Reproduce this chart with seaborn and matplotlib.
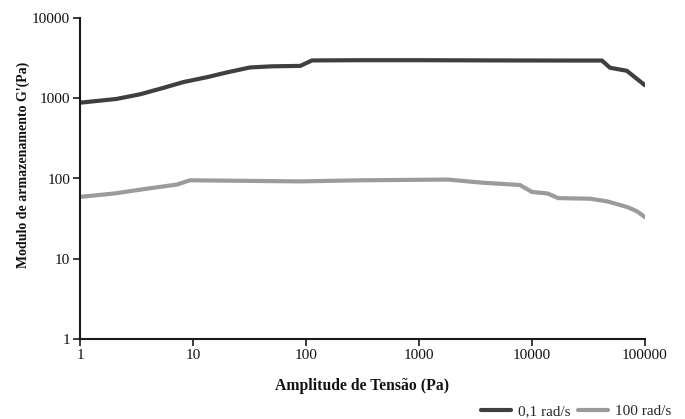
import matplotlib
matplotlib.use("Agg")
import matplotlib.pyplot as plt
import seaborn as sns
import pandas as pd
from matplotlib.ticker import FixedLocator, FixedFormatter, NullLocator
from matplotlib.lines import Line2D

# Data
x_low = [1, 2.1, 3.4, 5.5, 8.2, 13.3, 20, 32, 50, 89, 113, 300, 1000, 5000, 20000, 41600, 49000, 69000, 100000]
g_low = [880, 980, 1120, 1350, 1590, 1830, 2100, 2420, 2500, 2530, 2960, 2980, 2980, 2960, 2950, 2950, 2400, 2200, 1450]

x_high = [1, 2, 4, 7.2, 9.4, 20, 89, 300, 1800, 3500, 7800, 10000, 13800, 17000, 32600, 46000, 70000, 85000, 100000]
g_high = [59, 65, 75, 84, 95, 94, 92, 95, 97, 89, 83, 68, 65, 57, 56, 52, 44, 39, 33]

series_names = ["0,1 rad/s", "100 rad/s"]
colors = ["#3f3f3f", "#9b9b9b"]

x_ticks = [1, 10, 100, 1000, 10000, 100000]
x_tick_labels = ["1", "10", "100", "1000", "10000", "100000"]
y_ticks = [1, 10, 100, 1000, 10000]
y_tick_labels = ["1", "10", "100", "1000", "10000"]

df = pd.concat([
    pd.DataFrame({"x": x_low, "g": g_low, "s": series_names[0]}),
    pd.DataFrame({"x": x_high, "g": g_high, "s": series_names[1]}),
], ignore_index=True)

sns.set_style("ticks")
plt.rcParams["font.family"] = ["Liberation Serif", "DejaVu Serif"]

fig = plt.figure(figsize=(6.85, 4.19), dpi=100)
ax = fig.add_axes([80/685, 1-339/419, (645-80)/685, (339-18)/419])

sns.lineplot(data=df, x="x", y="g", hue="s", palette=colors, linewidth=3,
             ax=ax, legend=False, sort=False, estimator=None)

ax.set_xscale("log")
ax.set_yscale("log")
ax.set_xlim(1, 100000)
ax.set_ylim(1, 10000)
ax.xaxis.set_major_locator(FixedLocator(x_ticks))
ax.xaxis.set_major_formatter(FixedFormatter(x_tick_labels))
ax.yaxis.set_major_locator(FixedLocator(y_ticks))
ax.yaxis.set_major_formatter(FixedFormatter(y_tick_labels))
ax.xaxis.set_minor_locator(NullLocator())
ax.yaxis.set_minor_locator(NullLocator())
ax.tick_params(axis="both", which="major", labelsize=11, length=5, width=1.2,
               color="#1a1a1a", labelcolor="#111111", pad=2)
for sp in ["top", "right"]:
    ax.spines[sp].set_visible(False)
for sp in ["left", "bottom"]:
    ax.spines[sp].set_linewidth(1.5)
    ax.spines[sp].set_color("#1a1a1a")

ax.set_xlabel("Amplitude de Tensão (Pa)", fontsize=11.3, fontweight="bold", color="#111111")
ax.set_ylabel("Modulo de armazenamento G'(Pa)", fontsize=10, fontweight="bold", color="#111111")
ax.xaxis.set_label_coords(0.5, -0.122)
ax.yaxis.set_label_coords(-0.088, 0.542)

handles = [Line2D([0], [0], color=c, linewidth=3) for c in colors]
fig.legend(handles, series_names, loc="center right", bbox_to_anchor=(0.98, 1 - 411/419),
           ncol=2, frameon=False, fontsize=11, handlelength=2.0, handletextpad=0.45,
           columnspacing=0.45, borderaxespad=0, borderpad=0)

fig.savefig("out.png", dpi=100)
